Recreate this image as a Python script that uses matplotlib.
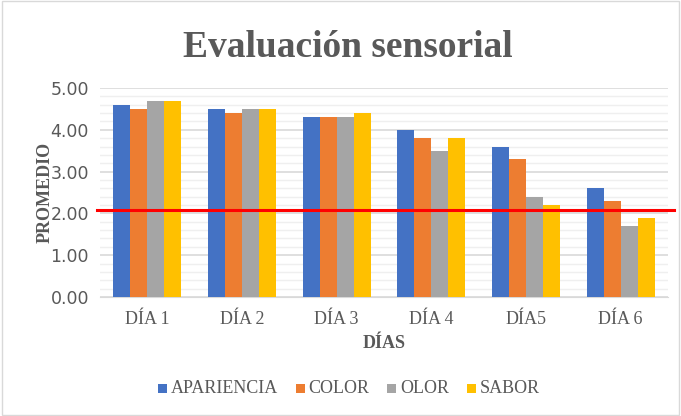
import numpy as np
import matplotlib.pyplot as plt
from matplotlib.ticker import MultipleLocator, FormatStrFormatter

dias = ['DÍA 1', 'DÍA 2', 'DÍA 3', 'DÍA 4', 'DÍA5', 'DÍA 6']
series = ['APARIENCIA', 'COLOR', 'OLOR', 'SABOR']
apariencia = [4.6, 4.5, 4.3, 4.0, 3.6, 2.6]
color = [4.5, 4.4, 4.3, 3.8, 3.3, 2.3]
olor = [4.7, 4.5, 4.3, 3.5, 2.4, 1.7]
sabor = [4.7, 4.5, 4.4, 3.8, 2.2, 1.9]
limite = 2.08

colores = ['#4472C4', '#ED7D31', '#A5A5A5', '#FFC000']
serif = 'Liberation Serif'

fig = plt.figure(figsize=(6.81, 4.16), dpi=100)
ax = fig.add_axes([100 / 681, 1 - 297 / 416, 568 / 681, 209 / 416])

x = np.arange(len(dias))
w = 0.18
for i, (nombre, vals) in enumerate(zip(series, [apariencia, color, olor, sabor])):
    ax.bar(x + (i - 1.5) * w, vals, w, color=colores[i], label=nombre, zorder=3)

ax.axhline(limite, color='#FF0000', lw=2.2, zorder=4, xmin=-0.005, xmax=1.01, clip_on=False)

ax.set_xlim(-0.5, len(dias) - 0.5)
ax.set_ylim(0, 5)
ax.yaxis.set_major_locator(MultipleLocator(1))
ax.yaxis.set_minor_locator(MultipleLocator(0.2))
ax.yaxis.set_major_formatter(FormatStrFormatter('%.2f'))
ax.grid(axis='y', which='major', color='#D9D9D9', lw=1.2, zorder=0)
ax.grid(axis='y', which='minor', color='#EFEFEF', lw=1.0, zorder=0)
for s in ['top', 'right', 'left']:
    ax.spines[s].set_visible(False)
ax.spines['bottom'].set_color('#D9D9D9')
ax.tick_params(axis='both', which='both', length=0, colors='#595959')
ax.tick_params(axis='y', labelsize=12.5, pad=8)
ax.set_xticks(x)
ax.set_xticklabels(dias, family=serif, fontsize=13)
ax.tick_params(axis='x', pad=10)

ax.set_ylabel('PROMEDIO', family=serif, fontweight='bold', fontsize=13, color='#595959', labelpad=-2)
ax.set_xlabel('DÍAS', family=serif, fontweight='bold', fontsize=13, color='#595959', labelpad=5)

fig.text(0.511, 0.885, 'Evaluación sensorial', family=serif, fontweight='bold',
         fontsize=27, color='#595959', ha='center', va='center')

leg = fig.legend(loc='center', bbox_to_anchor=(0.512, 0.066), ncol=4, frameon=False,
                 handlelength=0.65, handleheight=0.65,
                 handletextpad=0.25, columnspacing=1.3)
for t in leg.get_texts():
    t.set_fontfamily(serif)
    t.set_fontsize(13)
    t.set_color('#595959')

fig.patches.append(plt.Rectangle((0.003, 0.003), 0.994, 0.994, transform=fig.transFigure,
                                 fill=False, edgecolor='#D9D9D9', lw=1))

fig.savefig('out.png', dpi=100)
